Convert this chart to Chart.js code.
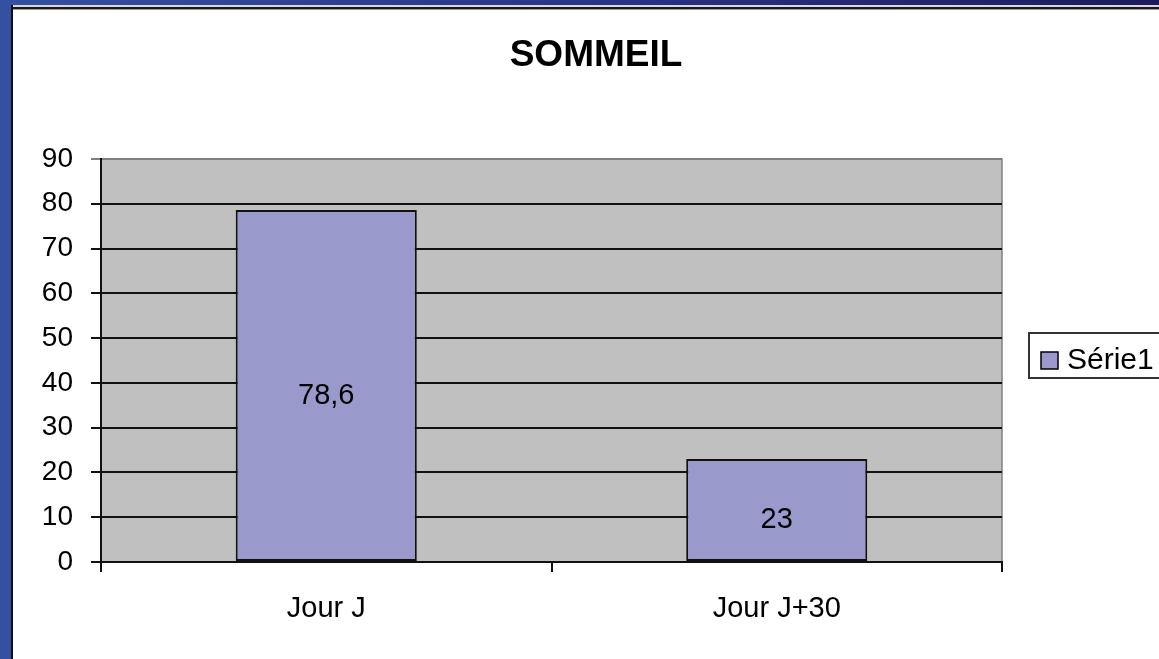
<!DOCTYPE html>
<html>
<head>
<meta charset="utf-8">
<script src="https://cdn.jsdelivr.net/npm/chart.js@4.4.0/dist/chart.umd.min.js"></script>
<style>
  html, body { margin:0; padding:0; background:#fff; width:1159px; height:659px; overflow:hidden; }
  #topbar { position:absolute; left:0; top:0; width:1159px; height:5px;
    background:linear-gradient(to right, #3550a0, #2a3488 50%, #1d1b5c); }
  #topline1 { position:absolute; left:11px; top:5px; width:1148px; height:2px; background:#d8d8d8; }
  #topline2 { position:absolute; left:11px; top:7px; width:1148px; height:2px; background:#1a1a1a; }
  #topline3 { position:absolute; left:11px; top:9px; width:1148px; height:1px; background:#9a9a9a; }
  #leftbar { position:absolute; left:0; top:0; width:11px; height:659px; background:#3550a0; }
  #leftline { position:absolute; left:11px; top:5px; width:2px; height:654px; background:#111; }
  #c { position:absolute; left:0; top:0; }
</style>
</head>
<body>
<div id="topbar"></div>
<div id="topline1"></div>
<div id="topline2"></div>
<div id="topline3"></div>
<div id="leftbar"></div>
<div id="leftline"></div>
<canvas id="c" width="1159" height="659"></canvas>
<script>
const chartTitle = "SOMMEIL";
const categories = ["Jour J", "Jour J+30"];
const seriesName = "Série1";
const seriesValues = [78.6, 23];
const yTicks = [0, 10, 20, 30, 40, 50, 60, 70, 80, 90];

const FONT = "'Liberation Sans', Arial, sans-serif";
const BAR_COLOR = "#9999CC";

const framePlugin = {
  id: 'frame',
  beforeDraw(chart) {
    const ctx = chart.ctx, a = chart.chartArea;
    ctx.save();
    ctx.fillStyle = '#C0C0C0';
    ctx.fillRect(a.left, a.top, a.right - a.left, a.bottom - a.top);
    ctx.strokeStyle = '#808080';
    ctx.lineWidth = 1.5;
    ctx.strokeRect(a.left, a.top, a.right - a.left, a.bottom - a.top);
    ctx.restore();
  },
  afterDraw(chart) {
    const ctx = chart.ctx;
    ctx.save();
    // title
    ctx.fillStyle = '#000';
    ctx.font = "bold 37px " + FONT;
    ctx.textAlign = 'center';
    ctx.textBaseline = 'middle';
    ctx.fillText(chartTitle, 596, 56);
    // data labels
    const meta = chart.getDatasetMeta(0);
    ctx.font = "29px " + FONT;
    meta.data.forEach((bar, i) => {
      const v = chart.data.datasets[0].data[i];
      const txt = String(v).replace('.', ',');
      ctx.fillText(txt, bar.x, (bar.y + bar.base) / 2 + 10);
    });
    // legend
    const lx = 1029, ly = 333, lw = 160, lh = 45;
    ctx.strokeStyle = '#333';
    ctx.lineWidth = 2;
    ctx.strokeRect(lx, ly, lw, lh);
    ctx.fillStyle = BAR_COLOR;
    ctx.fillRect(1041, 352, 17, 17);
    ctx.strokeStyle = '#000';
    ctx.lineWidth = 1.5;
    ctx.strokeRect(1041, 352, 17, 17);
    ctx.fillStyle = '#000';
    ctx.textAlign = 'left';
    ctx.font = "30px " + FONT;
    ctx.fillText(chart.data.datasets[0].label, 1067, 361);
    ctx.restore();
  }
};

new Chart(document.getElementById('c'), {
  type: 'bar',
  data: {
    labels: categories,
    datasets: [{
      label: seriesName,
      data: seriesValues,
      backgroundColor: BAR_COLOR,
      borderColor: '#111',
      borderWidth: 2,
      borderSkipped: false,
      categoryPercentage: 1.0,
      barPercentage: 0.402
    }]
  },
  options: {
    responsive: false,
    animation: false,
    layout: { padding: { top: 159, right: 157, bottom: 0, left: 0 } },
    plugins: {
      legend: { display: false },
      title: { display: false },
      tooltip: { enabled: false }
    },
    scales: {
      x: {
        afterFit(scale) { scale.height = 97; },
        grid: { drawOnChartArea: false, drawTicks: true, tickLength: 10, color: '#111', lineWidth: 2, offset: true },
        border: { color: '#111', width: 2 },
        ticks: { color: '#000', font: { family: FONT, size: 29 }, padding: 20 }
      },
      y: {
        min: 0, max: 90,
        afterFit(scale) { scale.width = 101; },
        afterBuildTicks(scale) { scale.ticks = yTicks.map(v => ({ value: v })); },
        grid: {
          color: ctx => (ctx.tick && ctx.tick.value === 90) ? '#808080' : '#111',
          lineWidth: 2, tickLength: 10, drawTicks: true
        },
        border: { color: '#111', width: 2 },
        ticks: { color: '#000', font: { family: FONT, size: 28 }, padding: 18, stepSize: 10 }
      }
    }
  },
  plugins: [framePlugin]
});
</script>
</body>
</html>
